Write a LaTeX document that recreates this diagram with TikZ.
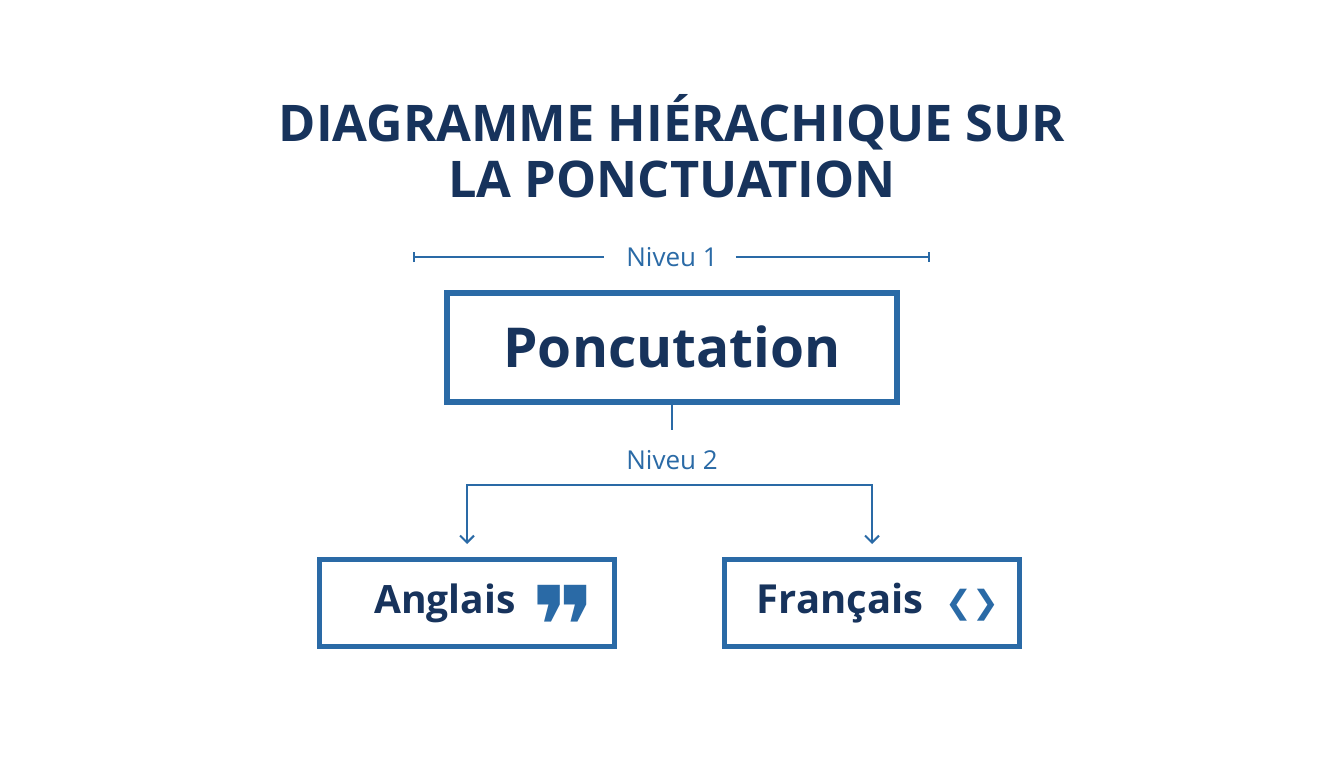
\documentclass[tikz,border=0pt]{standalone}
\usepackage{fontspec}
\setmainfont{Open Sans}
\newfontfamily\symb{DejaVu Sans}
\usepackage{tikz}
\usetikzlibrary{arrows.meta, calc}

\definecolor{navy}{HTML}{17335C}
\definecolor{bleu}{HTML}{2A6AA6}

\tikzset{
  boite/.style = {draw=bleu, fill=white, text=navy, font=\bfseries\fontsize{39}{44}\selectfont},
  niveau/.style = {text=bleu, font=\fontsize{26}{30}\selectfont, inner sep=0pt},
  trait/.style = {bleu, line width=2}
}

\begin{document}
\begin{tikzpicture}[x=1pt, y=-1pt]
\useasboundingbox[fill=white] (0,0) rectangle (1344,768);

% titre
\node[text=navy, font=\bfseries\fontsize{50.5}{56}\selectfont, align=center] (titre)
  at (672, 146) {DIAGRAMME HIÉRACHIQUE SUR\\LA PONCTUATION};

% niveau 1
\node[niveau] (niv1) at (672, 257) {Niveu 1};
\coordinate (g1) at (413, 257);
\coordinate (d1) at (930, 257);
\draw[trait, {Bar[width=10pt]}-] (g1) -- ($(niv1.west) + (-22, 0)$);
\draw[trait, -{Bar[width=10pt]}] ($(niv1.east) + (18, 0)$) -- (d1);

\node[boite, line width=6, minimum width=450, minimum height=109,
      font=\bfseries\fontsize{55}{60}\selectfont] (ponc) at (672, 347) {Poncutation};

% niveau 2
\coordinate (bas) at (672, 430);
\draw[trait] (ponc.south) -- (bas);
\node[niveau] (niv2) at (672, 460) {Niveu 2};

\node[boite, line width=5, minimum width=295, minimum height=87] (ang) at (467, 603)
  {Anglais\rlap{\kern16pt\smash{\raisebox{-52pt}{\textcolor{bleu}{\symb\fontsize{110}{110}\selectfont ❞}}}}\kern44pt};
\node[boite, line width=5, minimum width=295, minimum height=87, font=\bfseries\fontsize{40}{44}\selectfont] (fra) at (872, 603)
  {\kern12pt Français\kern22pt\textcolor{bleu}{\symb\bfseries\fontsize{32}{36}\selectfont ❮❯}};

\coordinate (branche) at (672, 485);
\draw[trait, -{Straight Barb[length=7pt, width=14pt]}, shorten >=13pt] (branche) -| (ang.north);
\draw[trait, -{Straight Barb[length=7pt, width=14pt]}, shorten >=13pt] (branche) -| (fra.north);
\end{tikzpicture}
\end{document}
